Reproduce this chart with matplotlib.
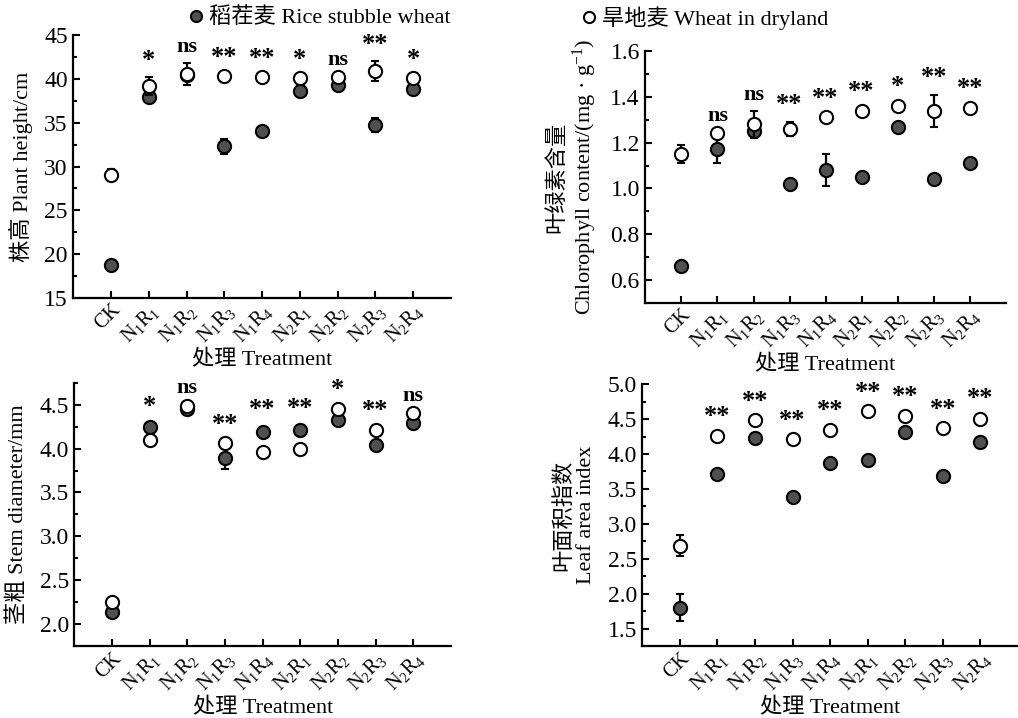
import matplotlib
matplotlib.use('Agg')
import matplotlib.pyplot as plt
from matplotlib.lines import Line2D
from matplotlib.ticker import MultipleLocator, AutoMinorLocator

plt.rcParams['font.family'] = ['Liberation Serif', 'Noto Sans CJK SC']
plt.rcParams['mathtext.fontset'] = 'custom'
plt.rcParams['mathtext.rm'] = 'Liberation Serif'
plt.rcParams['mathtext.it'] = 'Liberation Serif:italic'
plt.rcParams['font.size'] = 16

treatments = ['CK', r'$\mathrm{N_1R_1}$', r'$\mathrm{N_1R_2}$', r'$\mathrm{N_1R_3}$',
              r'$\mathrm{N_1R_4}$', r'$\mathrm{N_2R_1}$', r'$\mathrm{N_2R_2}$',
              r'$\mathrm{N_2R_3}$', r'$\mathrm{N_2R_4}$']

# plant height (cm)
height_rice = [18.8, 37.9, 40.4, 32.3, 34.1, 38.6, 39.3, 34.7, 38.9]
height_rice_err = [0.2, 0.3, 0.4, 0.9, 0.2, 0.6, 0.3, 0.8, 0.3]
height_dry = [29.05, 39.2, 40.6, 40.3, 40.2, 40.1, 40.2, 40.9, 40.1]
height_dry_err = [0.7, 1.0, 1.25, 0.15, 0.15, 0.2, 0.2, 1.1, 0.2]
height_sig = ['', '*', 'ns', '**', '**', '*', 'ns', '**', '*']

# chlorophyll content (mg/g)
chl_rice = [0.66, 1.17, 1.25, 1.02, 1.08, 1.05, 1.27, 1.04, 1.11]
chl_rice_err = [0.01, 0.06, 0.02, 0.02, 0.07, 0.01, 0.01, 0.01, 0.01]
chl_dry = [1.15, 1.24, 1.28, 1.26, 1.31, 1.34, 1.36, 1.34, 1.35]
chl_dry_err = [0.04, 0.01, 0.06, 0.03, 0.01, 0.01, 0.01, 0.07, 0.01]
chl_sig = ['', 'ns', 'ns', '**', '**', '**', '*', '**', '**']

# stem diameter (mm)
stem_rice = [2.14, 4.24, 4.45, 3.89, 4.19, 4.21, 4.32, 4.04, 4.29]
stem_rice_err = [0.02, 0.05, 0.02, 0.12, 0.06, 0.05, 0.05, 0.02, 0.02]
stem_dry = [2.25, 4.10, 4.49, 4.06, 3.96, 3.99, 4.45, 4.21, 4.41]
stem_dry_err = [0.02, 0.02, 0.02, 0.02, 0.01, 0.02, 0.03, 0.03, 0.01]
stem_sig = ['', '*', 'ns', '**', '**', '**', '*', '**', 'ns']

# leaf area index
lai_rice = [1.80, 3.72, 4.23, 3.38, 3.87, 3.91, 4.31, 3.68, 4.17]
lai_rice_err = [0.19, 0.03, 0.02, 0.02, 0.02, 0.02, 0.02, 0.02, 0.02]
lai_dry = [2.69, 4.26, 4.49, 4.21, 4.35, 4.61, 4.54, 4.37, 4.50]
lai_dry_err = [0.15, 0.03, 0.02, 0.02, 0.03, 0.02, 0.04, 0.03, 0.05]
lai_sig = ['', '**', '**', '**', '**', '**', '**', '**', '**']

x = list(range(len(treatments)))

fig = plt.figure(figsize=(10.18, 7.18), dpi=100)

panels = [
    ([0.072, 0.585, 0.371, 0.366], height_rice, height_rice_err, height_dry, height_dry_err,
     height_sig, (15, 45), 5, '株高 Plant height/cm'),
    ([0.634, 0.578, 0.354, 0.351], chl_rice, chl_rice_err, chl_dry, chl_dry_err,
     chl_sig, (0.5, 1.6), 0.2, '叶绿素含量\nChlorophyll content/(mg · g$^{-1}$)'),
    ([0.073, 0.100, 0.370, 0.367], stem_rice, stem_rice_err, stem_dry, stem_dry_err,
     stem_sig, (1.75, 4.75), 0.5, '茎粗 Stem diameter/mm'),
    ([0.631, 0.100, 0.369, 0.365], lai_rice, lai_rice_err, lai_dry, lai_dry_err,
     lai_sig, (1.25, 5.0), 0.5, '叶面积指数\nLeaf area index'),
]

for rect, rice, rice_err, dry, dry_err, sig, ylim, step, ylabel in panels:
    ax = fig.add_axes(rect)
    ax.errorbar(x, rice, yerr=rice_err, fmt='o', color='black', mfc='#505050',
                mec='black', ms=9.5, mew=1.5, elinewidth=1.6, capsize=3,
                capthick=1.6, zorder=3)
    ax.errorbar(x, dry, yerr=dry_err, fmt='o', color='black', mfc='white',
                mec='black', ms=9.5, mew=1.5, elinewidth=1.6, capsize=3,
                capthick=1.6, zorder=4)
    for i, label in enumerate(sig):
        if label:
            top = max(rice[i] + rice_err[i], dry[i] + dry_err[i])
            size = 16 if label == 'ns' else 19
            ax.annotate(label, (x[i], top), xytext=(0, 4), textcoords='offset points',
                        ha='center', va='bottom', fontsize=size, fontweight='bold')
    ax.set_xlim(-1, 9)
    ax.set_ylim(*ylim)
    ax.yaxis.set_major_locator(MultipleLocator(step))
    ax.yaxis.set_minor_locator(AutoMinorLocator(2))
    if step < 1:
        ax.yaxis.set_major_formatter(plt.FormatStrFormatter('%.1f'))
    ax.set_xticks(x)
    ax.set_xticklabels(treatments, rotation=45, ha='right', rotation_mode='anchor',
                       fontsize=14.5)
    ax.spines['top'].set_visible(False)
    ax.spines['right'].set_visible(False)
    for side in ['left', 'bottom']:
        ax.spines[side].set_linewidth(1.6)
    ax.tick_params(direction='in', width=1.5, length=5)
    ax.tick_params(axis='y', labelsize=17, pad=4)
    ax.tick_params(which='minor', direction='in', width=1.5, length=3)
    ax.tick_params(axis='x', pad=2)
    ax.set_xlabel('处理 Treatment', fontsize=16, labelpad=2)
    ax.set_ylabel(ylabel, fontsize=16, labelpad=8, linespacing=1.2)

rice_handle = Line2D([], [], marker='o', ls='none', mfc='#505050', mec='black', ms=8, mew=1.5)
dry_handle = Line2D([], [], marker='o', ls='none', mfc='white', mec='black', ms=8, mew=1.5)
fig.legend([rice_handle], ['稻茬麦 Rice stubble wheat'], loc='center left',
           bbox_to_anchor=(0.186, 0.975), frameon=False, fontsize=16,
           handlelength=0.6, handletextpad=0.3, borderpad=0, borderaxespad=0)
fig.legend([dry_handle], ['旱地麦 Wheat in dryland'], loc='center left',
           bbox_to_anchor=(0.572, 0.975), frameon=False, fontsize=16,
           handlelength=0.6, handletextpad=0.3, borderpad=0, borderaxespad=0)

fig.savefig('out.png', dpi=100)
